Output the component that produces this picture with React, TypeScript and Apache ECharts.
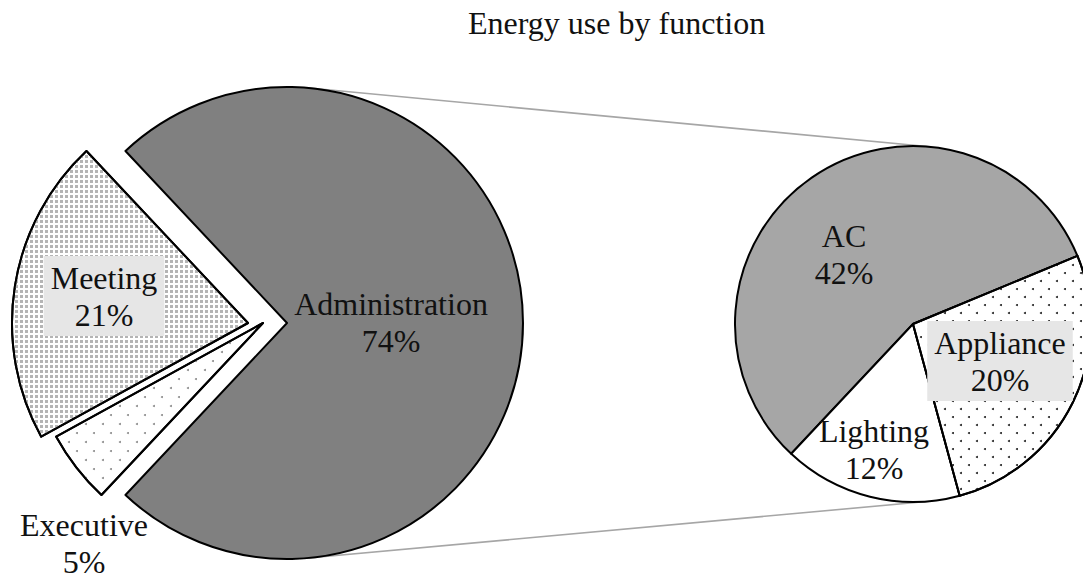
import React, { useEffect, useRef } from "react";
import * as echarts from "echarts";

// Energy shares by building function (percent of total)
const functionNames = ["Administration", "Meeting", "Executive"];
const functionShares = [74, 21, 5];

// Breakdown of the Administration share (percent of total)
const adminParts = ["AC", "Lighting", "Appliance"];
const adminShares = [42, 12, 20];

const titleText = "Energy use by function";

const SERIF = "'Liberation Serif', 'Times New Roman', Times, serif";

// Layout of the two pies
const BIG = { cx: 287, cy: 323, r: 236 };
const SMALL = { cx: 913, cy: 324, r: 178 };
// Exploded slices get their own centre
const sliceCenterX: Record<string, number> = {
  Administration: 287,
  Meeting: 248,
  Executive: 263,
};

// Where each label sits
const labelSpots: Record<string, [number, number]> = {
  Administration: [391, 322],
  Meeting: [104, 296],
  Executive: [84, 543],
  AC: [844, 254],
  Appliance: [1000, 361],
  Lighting: [874, 449],
};

const labelBox: Record<string, boolean> = { Meeting: true, Appliance: true };

const border = { borderColor: "#000", borderWidth: 2 };

const fills: Record<string, any> = {
  Administration: { color: "#808080" },
  Meeting: {
    color: "#ffffff",
    decal: {
      symbol: "rect",
      symbolSize: 1,
      color: "#b4b4b4",
      backgroundColor: "#ffffff",
      dashArrayX: [3, 2],
      dashArrayY: [3, 2],
    },
  },
  Executive: {
    color: "#ffffff",
    decal: {
      symbol: "circle",
      symbolSize: 1,
      color: "#8c8c8c",
      backgroundColor: "#ffffff",
      dashArrayX: [
        [1.6, 14.4],
        [0, 8, 1.6, 6.4],
      ],
      dashArrayY: [1.6, 6.4],
    },
  },
  AC: { color: "#a6a6a6" },
  Lighting: { color: "#ffffff" },
  Appliance: {
    color: "#ffffff",
    decal: {
      symbol: "circle",
      symbolSize: 1,
      color: "#222222",
      backgroundColor: "#ffffff",
      dashArrayX: [
        [2, 14],
        [0, 8, 2, 6],
      ],
      dashArrayY: [2, 6],
    },
  },
};

function labelStyle(name: string) {
  const base: any = {
    show: true,
    position: "inside",
    formatter: "{b}\n{c}%",
    fontFamily: SERIF,
    fontSize: 32,
    lineHeight: 37,
    color: "#111",
  };
  if (labelBox[name]) {
    base.backgroundColor = "#e6e6e6";
    base.padding = [3, 7, 3, 7];
  }
  return base;
}

function visibleItem(name: string, value: number) {
  return {
    name,
    value,
    itemStyle: { ...fills[name], ...border },
    label: labelStyle(name),
  };
}

function hiddenItem(name: string, value: number) {
  return {
    name,
    value,
    itemStyle: { color: "rgba(0,0,0,0)", borderWidth: 0 },
    label: { show: false },
  };
}

function placeLabel(names: string[]) {
  return (p: any) => {
    const spot = labelSpots[names[p.dataIndex]];
    if (!spot) return {};
    return { x: spot[0], y: spot[1], align: "center", verticalAlign: "middle" };
  };
}

// Outer tangent lines joining the two pies
function tangents() {
  const dx = SMALL.cx - BIG.cx;
  const dy = SMALL.cy - BIG.cy;
  const d = Math.hypot(dx, dy);
  const ux = dx / d;
  const uy = dy / d;
  const c = (BIG.r - SMALL.r) / d;
  const s = Math.sqrt(1 - c * c);
  const normals = [
    [ux * c + uy * s, -ux * s + uy * c],
    [ux * c - uy * s, ux * s + uy * c],
  ];
  return normals.map(([nx, ny]) => ({
    type: "line",
    z: 1,
    silent: true,
    shape: {
      x1: BIG.cx + BIG.r * nx,
      y1: BIG.cy + BIG.r * ny,
      x2: SMALL.cx + SMALL.r * nx,
      y2: SMALL.cy + SMALL.r * ny,
    },
    style: { stroke: "#a6a6a6", lineWidth: 1.6 },
  }));
}

export default function App() {
  const ref = useRef<HTMLDivElement>(null);

  useEffect(() => {
    if (!ref.current) return;
    const chart = echarts.init(ref.current, undefined, { renderer: "svg" });

    // One series per slice of the main pie so that each can be pulled out on its own
    const mainSeries = functionNames.map((focus) => ({
      type: "pie",
      silent: true,
      center: [sliceCenterX[focus], BIG.cy],
      radius: BIG.r,
      startAngle: -133.2,
      clockwise: false,
      avoidLabelOverlap: false,
      emphasis: { disabled: true },
      labelLine: { show: false },
      labelLayout: placeLabel(functionNames),
      data: functionNames.map((n, i) =>
        n === focus ? visibleItem(n, functionShares[i]) : hiddenItem(n, functionShares[i])
      ),
      z: 2,
    }));

    const subSeries = {
      type: "pie",
      silent: true,
      center: [SMALL.cx, SMALL.cy],
      radius: SMALL.r,
      startAngle: 22.5,
      clockwise: false,
      avoidLabelOverlap: false,
      emphasis: { disabled: true },
      labelLine: { show: false },
      labelLayout: placeLabel(adminParts),
      data: adminParts.map((n, i) => visibleItem(n, adminShares[i])),
      z: 2,
    };

    chart.setOption({
      animation: false,
      backgroundColor: "#ffffff",
      title: {
        text: titleText,
        left: 468,
        top: 7,
        padding: 0,
        textStyle: {
          fontFamily: SERIF,
          fontSize: 32,
          fontWeight: "normal",
          color: "#111",
        },
      },
      graphic: tangents(),
      series: [...mainSeries, subSeries],
    } as any);

    return () => chart.dispose();
  }, []);

  return (
    <div
      ref={ref}
      style={{ position: "fixed", left: 0, top: 0, width: 1083, height: 581 }}
    />
  );
}
